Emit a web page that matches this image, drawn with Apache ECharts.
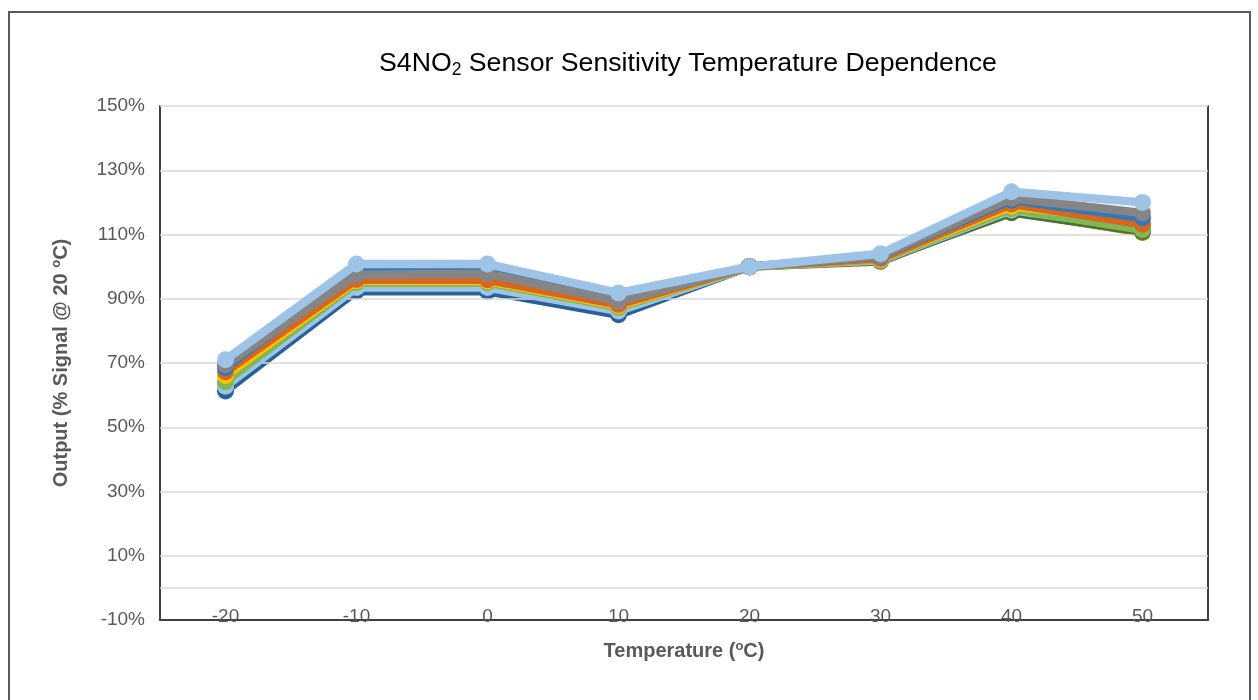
<!DOCTYPE html>
<html>
<head>
<meta charset="utf-8">
<script src="https://cdn.jsdelivr.net/npm/echarts@6/dist/echarts.min.js"></script>
<style>html,body{margin:0;padding:0;background:#fff;}#c{width:1258px;height:700px;}</style>
</head>
<body>
<div id="c"></div>
<script>
const temperatures = ['-20', '-10', '0', '10', '20', '30', '40', '50'];
const yTicks = [-10, 10, 30, 50, 70, 90, 110, 130, 150];
const gridValues = [0, 10, 30, 50, 70, 90, 110, 130, 150];

const sDarkBlue   = [61.3, 92.4, 92.3, 85.0, 100, 102.2, 117.0, 112.5];
const sOlive      = [63.2, 94.0, 94.0, 86.5, 100, 101.6, 117.3, 110.6];
const sDarkGreen  = [63.0, 94.2, 94.2, 86.8, 100, 101.9, 116.8, 111.0];
const sLightBlue2 = [62.8, 93.5, 93.5, 86.2, 100, 102.0, 117.6, 112.0];
const sGreen      = [64.2, 95.0, 95.0, 87.3, 100, 102.3, 118.0, 111.5];
const sYellow     = [66.0, 95.6, 95.5, 87.8, 100, 102.5, 118.8, 114.3];
const sOrange     = [67.3, 96.0, 95.9, 88.2, 100, 102.6, 119.5, 113.2];
const sBlue       = [68.5, 98.6, 98.9, 90.0, 100, 103.2, 120.7, 115.2];
const sGray       = [69.4, 97.5, 97.8, 89.2, 100, 103.3, 121.3, 116.7];
const sLightBlue  = [71.0, 100.8, 100.8, 91.8, 100, 104.0, 123.3, 120.0];

const seriesDefs = [
  ['Dark blue', sDarkBlue, '#2A6099'],
  ['Olive', sOlive, '#9C7A0C'],
  ['Dark green', sDarkGreen, '#4A7230'],
  ['Light blue 2', sLightBlue2, '#9DC3E6'],
  ['Green', sGreen, '#7DB854'],
  ['Yellow', sYellow, '#FFC000'],
  ['Orange', sOrange, '#D9661F'],
  ['Blue', sBlue, '#3179BD'],
  ['Gray', sGray, '#858585'],
  ['Light blue', sLightBlue, '#9DC3E6']
];

const labelColor = '#595959';
const series = [{
  type: 'line', name: 'grid', data: [], z: 0, silent: true,
  markLine: {
    silent: true, symbol: 'none', animation: false,
    label: {show: false},
    lineStyle: {color: '#D9D9D9', width: 1.5, type: 'solid'},
    data: gridValues.map(v => ({yAxis: v}))
  }
}];
seriesDefs.forEach((d, i) => {
  series.push({
    type: 'line', name: d[0], data: d[1], z: 3 + i,
    symbol: 'circle', symbolSize: 17,
    lineStyle: {color: d[2], width: 8.5},
    itemStyle: {color: d[2]},
    animation: false
  });
});

const chart = echarts.init(document.getElementById('c'), null, {renderer: 'canvas'});
chart.setOption({
  backgroundColor: '#fff',
  animation: false,
  title: {
    text: '{a|S4NO}{b|2}{a| Sensor Sensitivity Temperature Dependence}',
    left: 374, top: 44,
    textStyle: {
      fontWeight: 'normal',
      rich: {
        a: {fontFamily: 'Liberation Sans, Arial', fontSize: 26.7, fontWeight: 'normal', color: '#000', lineHeight: 30},
        b: {fontFamily: 'Liberation Sans, Arial', fontSize: 17.5, fontWeight: 'normal', color: '#000', verticalAlign: 'bottom', lineHeight: 22}
      }
    }
  },
  grid: {left: 160, right: 50, top: 106, bottom: 80, containLabel: false},
  xAxis: {
    type: 'category', data: temperatures, boundaryGap: true, z: 5,
    axisLine: {show: true, onZero: false, lineStyle: {color: '#404040', width: 2}},
    axisTick: {show: false},
    axisLabel: {color: labelColor, fontSize: 19, fontFamily: 'Liberation Sans, Arial', margin: -13},
    splitLine: {show: false},
    name: '{t|Temperature (}{s|o}{t|C)}',
    nameLocation: 'middle', nameGap: 20,
    nameTextStyle: {
      rich: {
        t: {fontSize: 20, fontWeight: 'bold', color: labelColor, fontFamily: 'Liberation Sans, Arial', lineHeight: 22},
        s: {fontSize: 13, fontWeight: 'bold', color: labelColor, fontFamily: 'Liberation Sans, Arial', verticalAlign: 'top', lineHeight: 12}
      }
    }
  },
  yAxis: [{
    type: 'value', min: -10, max: 150,
    axisLine: {show: true, lineStyle: {color: '#404040', width: 2}},
    axisTick: {show: false, customValues: yTicks},
    axisLabel: {color: labelColor, fontSize: 19, fontFamily: 'Liberation Sans, Arial', margin: 15,
      customValues: yTicks, formatter: v => v + '%'},
    splitLine: {show: false},
    name: '{t|Output (% Signal @ 20 }{s|o}{t|C)}',
    nameLocation: 'middle', nameGap: 88, nameRotate: 90,
    nameTextStyle: {
      rich: {
        t: {fontSize: 20, fontWeight: 'bold', color: labelColor, fontFamily: 'Liberation Sans, Arial', lineHeight: 22},
        s: {fontSize: 13, fontWeight: 'bold', color: labelColor, fontFamily: 'Liberation Sans, Arial', verticalAlign: 'top', lineHeight: 12}
      }
    }
  }, {
    type: 'value', min: -10, max: 150, position: 'right',
    axisLine: {show: true, lineStyle: {color: '#404040', width: 2}},
    axisTick: {show: false}, axisLabel: {show: false}, splitLine: {show: false}
  }],
  graphic: [{
    type: 'rect', silent: true, z: -1,
    shape: {x: 9, y: 12, width: 1241, height: 720},
    style: {fill: 'none', stroke: '#595959', lineWidth: 2}
  }],
  series: series
});
</script>
</body>
</html>
